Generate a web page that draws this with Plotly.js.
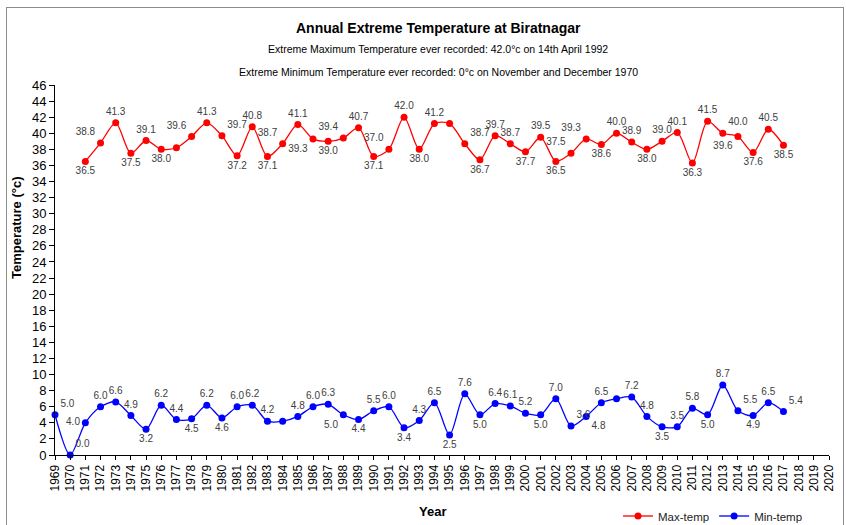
<!DOCTYPE html>
<html>
<head>
<meta charset="utf-8">
<script src="https://cdn.plot.ly/plotly-3.0.1.min.js"></script>
<style>
  html, body { margin: 0; padding: 0; background: #fff; }
  #chart { width: 846px; height: 525px; }
  #frame { position: absolute; left: 6px; top: 7px; width: 836px; height: 530px; border: 1px solid #8c8c8c; pointer-events: none; }
</style>
</head>
<body>
<div id="chart"></div>
<div id="frame"></div>
<script>
// ---- data ----
const maxYears = [1971,1972,1973,1974,1975,1976,1977,1978,1979,1980,1981,1982,1983,1984,1985,1986,1987,1988,1989,1990,1991,1992,1993,1994,1995,1996,1997,1998,1999,2000,2001,2002,2003,2004,2005,2006,2007,2008,2009,2010,2011,2012,2013,2014,2015,2016,2017];
const maxTemp = [36.5,38.8,41.3,37.5,39.1,38.0,38.2,39.6,41.3,39.7,37.2,40.8,37.1,38.7,41.1,39.3,39.0,39.4,40.7,37.1,38.0,42.0,38.0,41.2,41.2,38.7,36.7,39.7,38.7,37.7,39.5,36.5,37.5,39.3,38.6,40.0,38.9,38.0,39.0,40.1,36.3,41.5,40.0,39.6,37.6,40.5,38.5];
const maxLabels = ["36.5","38.8","41.3","37.5","39.1","38.0","","39.6","41.3","39.7","37.2","40.8","37.1","38.7","41.1","39.3","39.0","39.4","40.7","37.1","37.0","42.0","38.0","41.2","","38.7","36.7","39.7","38.7","37.7","39.5","36.5","37.5","39.3","38.6","40.0","38.9","38.0","39.0","40.1","36.3","41.5","40.0","39.6","37.6","40.5","38.5"];
const maxLabelPos = ["bottom center","top left","top center","bottom center","top center","bottom center","top center","top left","top center","top right","bottom center","top center","bottom center","top left","top center","bottom left","bottom center","top left","top center","bottom center","top left","top center","bottom center","top center","top center","top right","bottom center","top center","top center","bottom center","top center","bottom center","top left","top left","bottom center","top center","top center","bottom center","top center","top center","bottom center","top center","top right","bottom left","bottom center","top center","bottom center"];

const minYears = [1969,1970,1971,1972,1973,1974,1975,1976,1977,1978,1979,1980,1981,1982,1983,1984,1985,1986,1987,1988,1989,1990,1991,1992,1993,1994,1995,1996,1997,1998,1999,2000,2001,2002,2003,2004,2005,2006,2007,2008,2009,2010,2011,2012,2013,2014,2015,2016,2017];
const minTemp = [5.0,0.0,4.0,6.0,6.6,4.9,3.2,6.2,4.4,4.5,6.2,4.6,6.0,6.2,4.2,4.2,4.8,6.0,6.3,5.0,4.4,5.5,6.0,3.4,4.3,6.5,2.5,7.6,5.0,6.4,6.1,5.2,5.0,7.0,3.6,4.8,6.5,7.0,7.2,4.8,3.5,3.5,5.8,5.0,8.7,5.5,4.9,6.5,5.4];
const minLabels = ["5.0","0.0","4.0","6.0","6.6","4.9","3.2","6.2","4.4","4.5","6.2","4.6","6.0","6.2","4.2","","4.8","6.0","6.3","5.0","4.4","5.5","6.0","3.4","4.3","6.5","2.5","7.6","5.0","6.4","6.1","5.2","5.0","7.0","3.6","4.8","6.5","","7.2","4.8","3.5","3.5","5.8","5.0","8.7","5.5","4.9","6.5","5.4"];
const minLabelPos = ["top right","top right","middle left","top center","top center","top center","bottom center","top center","top center","bottom center","top center","bottom center","top center","top center","top center","top center","top center","top center","top center","bottom left","bottom center","top center","top center","bottom center","top center","top center","bottom center","top center","bottom center","top center","top center","top center","bottom center","top center","top right","bottom right","top center","top center","top center","top center","bottom center","top center","top center","bottom center","top center","top right","bottom center","top center","top right"];

const xTicks = [1969,1970,1971,1972,1973,1974,1975,1976,1977,1978,1979,1980,1981,1982,1983,1984,1985,1986,1987,1988,1989,1990,1991,1992,1993,1994,1995,1996,1997,1998,1999,2000,2001,2002,2003,2004,2005,2006,2007,2008,2009,2010,2011,2012,2013,2014,2015,2016,2017,2018,2019,2020];

const chartTitle = "Annual Extreme Temperature at Biratnagar";
const subtitle1 = "Extreme Maximum Temperature ever recorded: 42.0°c on 14th April 1992";
const subtitle2 = "Extreme Minimum Temperature ever recorded: 0°c on November and December 1970";

const FONT = "Arial, 'Liberation Sans', sans-serif";
const labelFont = { family: FONT, size: 10, color: "#404040" };

const traces = [
  {
    x: maxYears, y: maxTemp, name: "Max-temp",
    type: "scatter", mode: "lines+markers+text",
    line: { color: "#ff0000", width: 1.3, shape: "spline", smoothing: 0.8 },
    marker: { color: "#ff0000", size: 7 },
    text: maxLabels, textposition: maxLabelPos, textfont: labelFont,
    cliponaxis: false, hoverinfo: "x+y"
  },
  {
    x: minYears, y: minTemp, name: "Min-temp",
    type: "scatter", mode: "lines+markers+text",
    line: { color: "#0000ff", width: 1.3, shape: "spline", smoothing: 0.8 },
    marker: { color: "#0000ff", size: 7 },
    text: minLabels, textposition: minLabelPos, textfont: labelFont,
    cliponaxis: false, hoverinfo: "x+y"
  }
];

const layout = {
  width: 846, height: 525,
  margin: { l: 55, r: 17, t: 85, b: 70 },
  paper_bgcolor: "#ffffff", plot_bgcolor: "#ffffff",
  font: { family: FONT, color: "#000" },
  showlegend: true,
  legend: {
    orientation: "h", xref: "container", yref: "container",
    x: 808 / 846, xanchor: "right", y: (525 - 516) / 525, yanchor: "middle",
    font: { family: FONT, size: 11.5, color: "#222" },
    itemwidth: 30, traceorder: "normal"
  },
  xaxis: {
    range: [1969, 2020], tickmode: "array", tickvals: xTicks,
    ticktext: xTicks.map(String), tickangle: -90, automargin: false,
    showgrid: false, zeroline: false, showline: true, linecolor: "#000", linewidth: 1,
    ticks: "outside", ticklen: 4, tickcolor: "#000",
    tickfont: { family: FONT, size: 12, color: "#000" }
  },
  yaxis: {
    range: [0, 46], tickmode: "linear", tick0: 0, dtick: 2, automargin: false,
    showgrid: false, zeroline: false, showline: true, linecolor: "#000", linewidth: 1,
    ticks: "outside", ticklen: 5, tickcolor: "#000",
    tickfont: { family: FONT, size: 13, color: "#000" }
  },
  annotations: [
    { text: "<b>" + chartTitle + "</b>", xref: "paper", yref: "paper", x: 0.495, y: (455 - 28) / 370, xanchor: "center", yanchor: "middle", showarrow: false, font: { family: FONT, size: 14, color: "#000" } },
    { text: subtitle1, xref: "paper", yref: "paper", x: 0.495, y: (455 - 49) / 370, xanchor: "center", yanchor: "middle", showarrow: false, font: { family: FONT, size: 10.5, color: "#000" } },
    { text: subtitle2, xref: "paper", yref: "paper", x: 0.495, y: (455 - 72) / 370, xanchor: "center", yanchor: "middle", showarrow: false, font: { family: FONT, size: 10.5, color: "#000" } },
    { text: "<b>Year</b>", xref: "paper", yref: "paper", x: (432 - 55) / 774, y: (455 - 511) / 370, xanchor: "center", yanchor: "middle", showarrow: false, font: { family: FONT, size: 13, color: "#000" } },
    { text: "<b>Temperature (°c)</b>", xref: "paper", yref: "paper", x: (16 - 55) / 774, y: (455 - 228) / 370, xanchor: "center", yanchor: "middle", textangle: -90, showarrow: false, font: { family: FONT, size: 13, color: "#000" } }
  ]
};

Plotly.newPlot("chart", traces, layout, { displayModeBar: false, staticPlot: true });
</script>
</body>
</html>
